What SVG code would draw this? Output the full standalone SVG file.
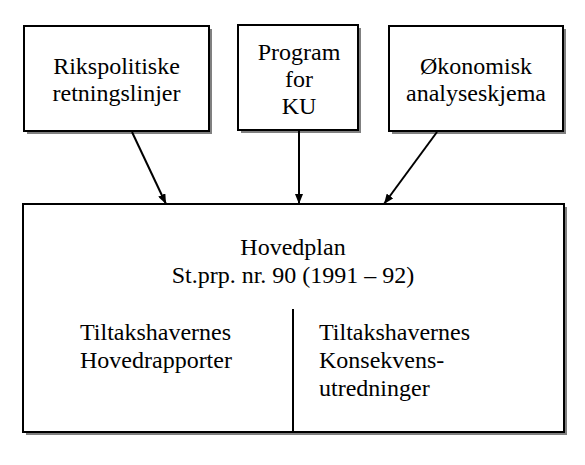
<svg xmlns="http://www.w3.org/2000/svg" width="585" height="465" viewBox="0 0 585 465">
  <style>
    .box { fill: #ffffff; stroke: #000000; stroke-width: 2; }
    .shadow { fill: none; stroke: #808080; stroke-width: 2; }
    .t { font-family: 'Liberation Serif', 'Times New Roman', serif; font-size: 24px; fill: #000000; }
    .c { text-anchor: middle; }
    .conn { stroke: #000000; stroke-width: 2; fill: none; marker-end: url(#arr); }
  </style>
  <defs>
    <marker id="arr" viewBox="0 0 10 8" refX="10" refY="4" markerWidth="10" markerHeight="8" markerUnits="userSpaceOnUse" orient="auto">
      <path d="M0,0 L10,4 L0,8 Z" fill="#000000"/>
    </marker>
  </defs>
  <rect width="585" height="465" fill="#ffffff"/>

  <g id="node-rikspolitiske">
    <polyline class="shadow" points="211,29 211,133 27,133"/>
    <rect class="box" x="24" y="26" width="185" height="105"/>
    <text class="t c" x="116.5" y="74">Rikspolitiske</text>
    <text class="t c" x="116.5" y="101">retningslinjer</text>
  </g>

  <g id="node-program">
    <polyline class="shadow" points="360,28 360,132 241,132"/>
    <rect class="box" x="238" y="25" width="120" height="105"/>
    <text class="t c" x="299" y="60">Program</text>
    <text class="t c" x="299" y="87">for</text>
    <text class="t c" x="299" y="114">KU</text>
  </g>

  <g id="node-okonomisk">
    <polyline class="shadow" points="565,29 565,133 392,133"/>
    <rect class="box" x="389" y="26" width="174" height="105"/>
    <text class="t c" x="476" y="74">Økonomisk</text>
    <text class="t c" x="476" y="101">analyseskjema</text>
  </g>

  <g id="node-hovedplan">
    <polyline class="shadow" points="566,207 566,434 26,434"/>
    <rect class="box" x="23" y="204" width="541" height="228"/>
    <line x1="293" y1="309" x2="293" y2="432" stroke="#000000" stroke-width="2"/>
    <text class="t c" x="293" y="255">Hovedplan</text>
    <text class="t c" x="293" y="283">St.prp. nr. 90 (1991 – 92)</text>
    <text class="t" x="80" y="340">Tiltakshavernes</text>
    <text class="t" x="80" y="368">Hovedrapporter</text>
    <text class="t" x="319" y="340">Tiltakshavernes</text>
    <text class="t" x="319" y="368">Konsekvens-</text>
    <text class="t" x="319" y="396">utredninger</text>
  </g>

  <g id="connectors">
    <line class="conn" x1="132" y1="132" x2="166" y2="204"/>
    <line class="conn" x1="299" y1="131" x2="299" y2="204"/>
    <line class="conn" x1="437" y1="132" x2="384" y2="204"/>
  </g>
</svg>
